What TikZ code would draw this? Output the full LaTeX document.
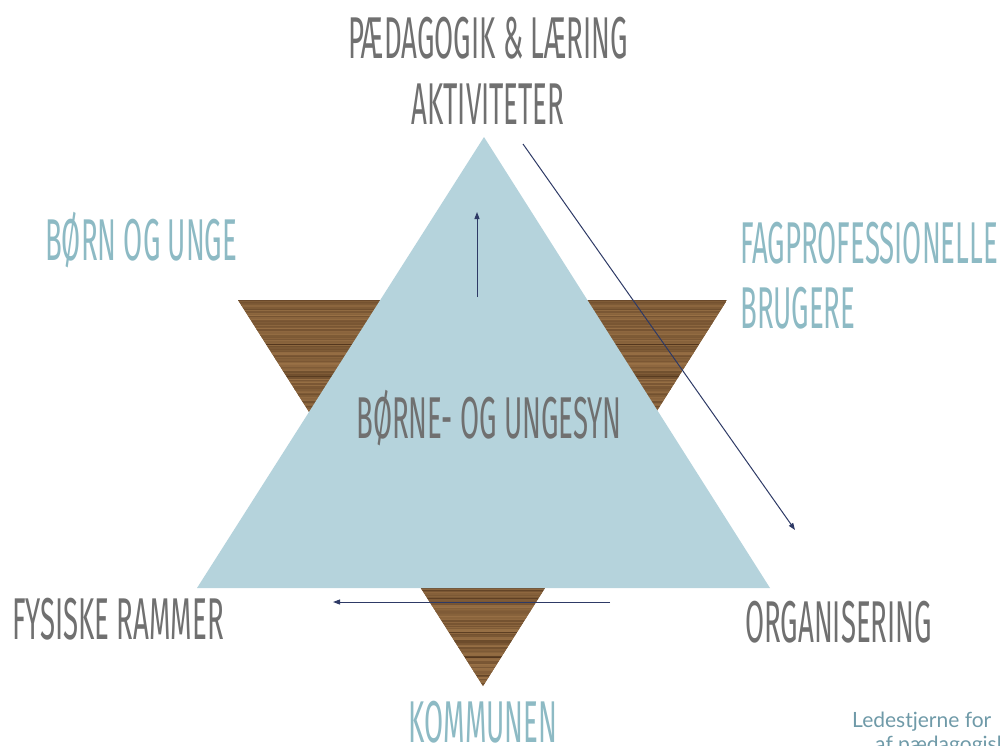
\documentclass[tikz,border=0pt]{standalone}
\usepackage{fontspec}
\setmainfont{Lato}
\newfontfamily\hand[FakeStretch=0.468]{Fira Sans}
\usetikzlibrary{arrows.meta}
\definecolor{himmel}{HTML}{B5D3DC}
\definecolor{traemork}{HTML}{4A2F18}
\definecolor{traelys}{HTML}{A47A4C}
\definecolor{graatekst}{HTML}{707070}
\definecolor{blaatekst}{HTML}{8DBAC4}
\definecolor{lilletekst}{HTML}{6F9AA8}
\definecolor{pil}{HTML}{2E3A66}
\tikzset{
  overskrift/.style={anchor=base,inner sep=0pt,font=\hand\fontsize{59}{60}\selectfont},
  graa/.style={overskrift,text=graatekst},
  blaa/.style={overskrift,text=blaatekst},
  pilen/.style={draw=pil,line width=1pt,-{Triangle[length=7pt,width=5pt]}}
}
\begin{document}
\begin{tikzpicture}[x=1pt,y=-1pt]
\useasboundingbox (0,0) rectangle (1000,745);

\begin{scope}
  \clip (238,300)--(727,300)--(483,686)--cycle;
  \fill[traelys!60!traemork] (238,300) rectangle (727,690);
  \pgfmathsetseed{11}
  \foreach \y in {300,301.2,...,688}{
    \pgfmathsetmacro\andel{int(45+rnd*45-(rnd>0.9)*40)}
    \draw[line width=1.4pt,traelys!\andel!traemork] (238,\y)--(727,\y);
  }
\end{scope}

\fill[himmel] (484,137)--(770,588)--(197,588)--cycle;

\coordinate (opstart) at (477,297);
\coordinate (optop) at (477,212);
\coordinate (skraastart) at (523,144);
\coordinate (skraaslut) at (795,530);
\coordinate (venstrestart) at (610,602);
\coordinate (venstreslut) at (333,602);
\draw[pilen] (opstart)--(optop);
\draw[pilen] (skraastart)--(skraaslut);
\draw[pilen] (venstrestart)--(venstreslut);

\node[graa] (paedagogik) at (488,58) {PÆDAGOGIK \& LÆRING};
\node[graa] (aktiviteter) at (488,124) {AKTIVITETER};
\node[blaa,anchor=base west] (boern) at (45,260) {BØRN OG UNGE};
\node[blaa,anchor=base west] (fag) at (740,263) {FAGPROFESSIONELLE};
\node[blaa,anchor=base west] (brugere) at (740,328) {BRUGERE};
\node[graa] (boernesyn) at (489,438) {BØRNE- OG UNGESYN};
\node[graa,anchor=base west] (fysiske) at (12,639) {FYSISKE RAMMER};
\node[graa,anchor=base west] (organisering) at (745,642) {ORGANISERING};
\node[blaa] (kommunen) at (483,742) {KOMMUNEN};

\node[anchor=base west,inner sep=0pt,text=lilletekst,font=\fontsize{21}{24}\selectfont] (ledestjerne) at (852,727) {Ledestjerne for};
\node[anchor=base west,inner sep=0pt,text=lilletekst,font=\fontsize{21}{24}\selectfont] (paedagogisk) at (875,751) {af pædagogisk};
\end{tikzpicture}
\end{document}
